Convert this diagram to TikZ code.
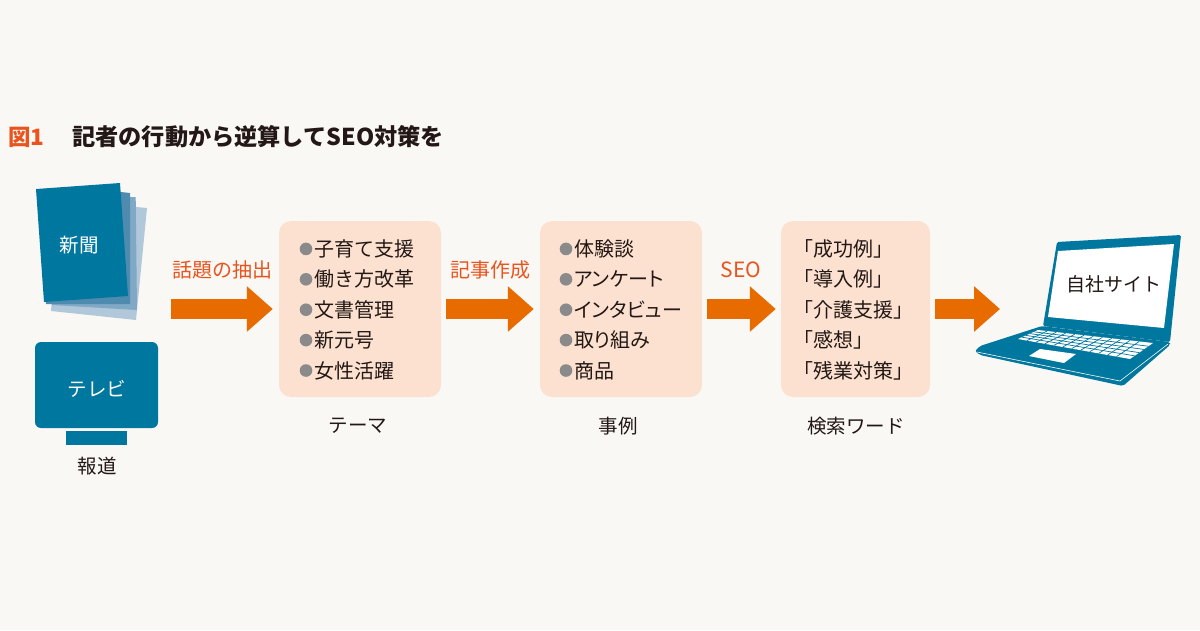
\documentclass[tikz,border=0pt]{standalone}
\usepackage{fontspec}
\setmainfont{Noto Sans CJK JP}
\newfontfamily\kanafont[RawFeature=+palt]{Noto Sans CJK JP}
\usetikzlibrary{arrows.meta,calc}
\definecolor{paper}{HTML}{FAF8F4}
\definecolor{teal}{HTML}{00779E}
\definecolor{sheetb}{HTML}{4F8BAE}
\definecolor{sheetc}{HTML}{80A9C6}
\definecolor{sheetd}{HTML}{B0C8DA}
\definecolor{flow}{HTML}{E86B00}
\definecolor{accent}{HTML}{E9541E}
\definecolor{peach}{HTML}{FCE1D0}
\definecolor{ink}{HTML}{231815}
\definecolor{dotgrey}{HTML}{8A8A8A}
\tikzset{
	topicbox/.style={fill=peach, rounded corners=12pt, minimum height=176pt, inner sep=0pt},
	flowarrow/.style={draw=flow, line width=20pt, -{Triangle[width=44pt,length=26pt]}, shorten >=0pt},
	itemtext/.style={font=\fontsize{20pt}{20pt}\selectfont, text=ink, anchor=west, inner sep=0pt},
	steplabel/.style={font=\fontsize{19.5pt}{20pt}\selectfont, text=ink, inner sep=0pt},
	flowlabel/.style={font=\fontsize{20pt}{20pt}\selectfont, text=accent, inner sep=0pt},
	whitelabel/.style={font=\fontsize{19.5pt}{20pt}\selectfont, text=white, inner sep=0pt},
}
\begin{document}
\begin{tikzpicture}[x=1pt,y=-1pt]
		\useasboundingbox (0,0) rectangle (1200,630);
		\fill[paper] (0,0) rectangle (1200,630);
		% title
		\node[anchor=west, inner sep=0pt, text=accent, font=\fontsize{22.5pt}{22pt}\selectfont\bfseries] (fig) at (8,137) {図1};
		\node[anchor=west, inner sep=0pt, text=ink, font=\fontsize{23.2pt}{22pt}\selectfont\bfseries] (title) at (72,137) {記者の行動から逆算してSEO対策を};
		% newspaper
		\fill[sheetd] (147,208) -- (136,320) -- (51,311) -- (60,200) -- cycle;
		\fill[sheetc] (135.7,197) -- (137,310) -- (52,305) -- (50,200) -- cycle;
		\fill[sheetb] (121,192) -- (130,193) -- (130,304) -- (46,304) -- (44,200) -- cycle;
		\fill[teal] (36,189) -- (120,183) -- (128,296) -- (44,302) -- cycle;
		\node[whitelabel] (paperlabel) at (79,245) {新聞};
		% tv
		\fill[teal, rounded corners=6pt] (35,342) rectangle (158,428);
		\fill[teal] (66,431) rectangle (127,445);
		\node[whitelabel] (tvlabel) at (97,389) {テレビ};
		\node[steplabel] (media) at (97,466) {報道};
		% boxes
		\node[topicbox, minimum width=162pt] (theme) at (360,309) {};
		\node[topicbox, minimum width=162pt] (case) at (621,309) {};
		\node[topicbox, minimum width=149pt] (word) at (855.5,309) {};
		\foreach \txt [count=\i] in {子育て支援,働き方改革,文書管理,新元号,女性活躍} {
			\fill[dotgrey] (306,218.5+30.4*\i) circle (6.3);
			\node[itemtext] (theme-\i) at (314,218.5+30.4*\i) {\txt};
		}
		\foreach \txt [count=\i] in {体験談,アンケート,インタビュー,取り組み,商品} {
			\fill[dotgrey] (566,218.5+30.4*\i) circle (6.3);
			\node[itemtext] (case-\i) at (574,218.5+30.4*\i) {\kanafont\txt};
		}
		\foreach \txt [count=\i] in {「成功例」,「導入例」,「介護支援」,「感想」,「残業対策」} {
			\node[itemtext] (word-\i) at (793,218.5+30.4*\i) {\txt};
		}
		\node[steplabel] (themelabel) at (358,426) {テーマ};
		\node[steplabel] (caselabel) at (618,426) {事例};
		\node[steplabel] (wordlabel) at (856,426) {検索ワード};
		% arrows
		\coordinate (start) at (171,309);
		\coordinate (site) at (1000,309);
		\draw[flowarrow] (start) -- ([xshift=-6pt]theme.west);
		\draw[flowarrow] ([xshift=5pt]theme.east) -- ([xshift=-6pt]case.west);
		\draw[flowarrow] ([xshift=5pt]case.east) -- ([xshift=-5pt]word.west);
		\draw[flowarrow] ([xshift=5pt]word.east) -- (site);
		\node[flowlabel] (extract) at (222,270) {話題の抽出};
		\node[flowlabel] (write) at (490,270) {記事作成};
		\node[flowlabel, font=\fontsize{21pt}{20pt}\selectfont] (seo) at (741,270) {SEO};
		% laptop
		\fill[teal, rounded corners=1.5pt] (1057,242) -- (1181,235) -- (1170,342) -- (1043,326) -- cycle;
		\fill[white] (1058,251) -- (1174,244) -- (1164,328) -- (1048,317) -- cycle;
		\fill[teal, rounded corners=2pt] (1042,326) -- (1170,342) -- (1170,345) -- (1123,386) -- (980,355) -- (975,351) -- (980,346) -- cycle;
		\draw[paper, line width=0.6pt] (977,352) -- (1120,381) -- (1168,344);
		\coordinate (keytl) at (1038,330);
		\coordinate (keytr) at (1153,343);
		\coordinate (keybr) at (1130,359);
		\coordinate (keybl) at (1018,339);
		\fill[white] (keytl) -- (keytr) -- (keybr) -- (keybl) -- cycle;
		\foreach \f in {0.2,0.4,0.6,0.8}
			\draw[teal, line width=0.7pt] ($(keytl)!\f!(keybl)$) -- ($(keytr)!\f!(keybr)$);
		\foreach \f in {0.08,0.16,...,0.96}
			\draw[teal, line width=0.7pt] ($(keytl)!\f!(keytr)$) -- ($(keybl)!\f!(keybr)$);
		\fill[white] (1040,349) -- (1076,354) -- (1064,363) -- (1029,356) -- cycle;
		\node[steplabel, font=\fontsize{19pt}{20pt}\selectfont] (sitelabel) at (1114,284) {自社サイト};
	\end{tikzpicture}
\end{document}
